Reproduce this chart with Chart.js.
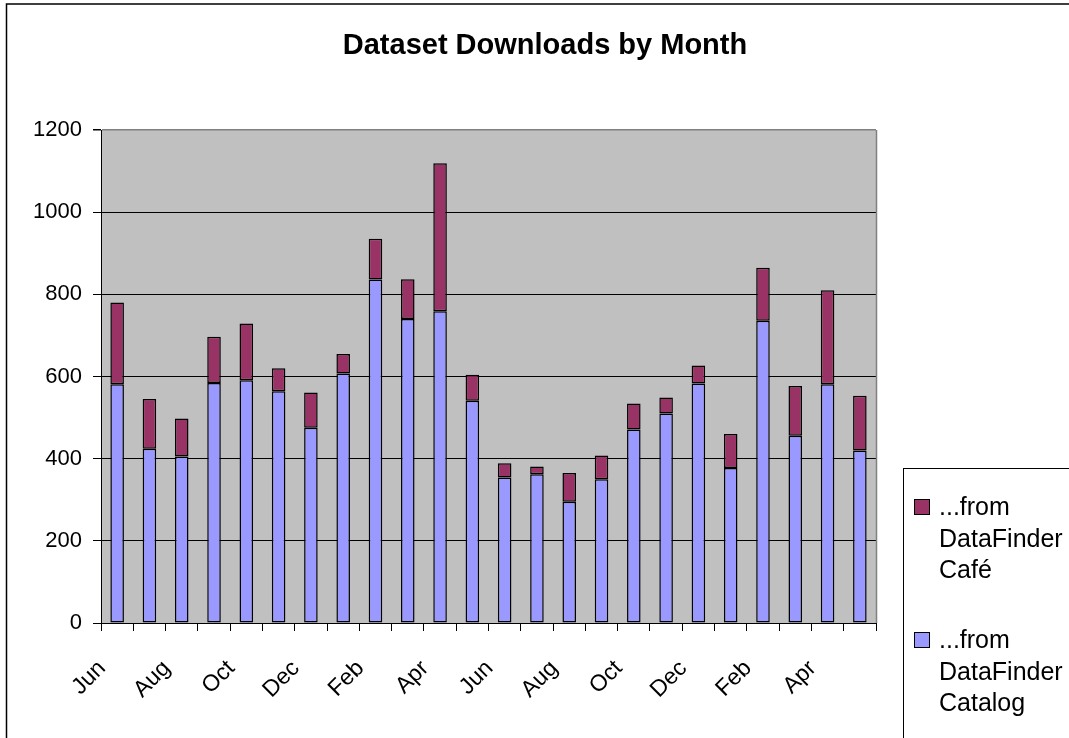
<!DOCTYPE html>
<html><head><meta charset="utf-8">
<script src="https://cdn.jsdelivr.net/npm/chart.js@4.4.1/dist/chart.umd.min.js"></script>
<style>html,body{margin:0;padding:0;background:#fff;overflow:hidden}</style>
</head><body>
<canvas id="c" width="1069" height="738"></canvas>
<script>
const chartTitle = 'Dataset Downloads by Month';
const months = ['Jun','Jul','Aug','Sep','Oct','Nov','Dec','Jan','Feb','Mar','Apr','May',
                'Jun','Jul','Aug','Sep','Oct','Nov','Dec','Jan','Feb','Mar','Apr','May'];
const catalog = [581,424,405,584,591,564,475,607,836,740,759,541,354,362,295,350,471,510,583,377,736,456,581,420];
const cafe    = [199,121,93,113,138,56,86,48,99,97,360,63,35,19,70,58,63,39,44,83,129,121,229,133];
const yTicks = [0,200,400,600,800,1000,1200];
const seriesNames = ['...from DataFinder Catalog','...from DataFinder Café'];
const seriesColors = ['#9999FF','#993366'];

const FONT = '"Liberation Sans", Arial, sans-serif';

const deco = {
  id: 'deco',
  beforeDraw(chart) {
    const {ctx, chartArea: a} = chart;
    ctx.save();
    ctx.fillStyle = '#fff';
    ctx.fillRect(0, 0, chart.width, chart.height);
    ctx.fillStyle = '#C0C0C0';
    ctx.fillRect(a.left, a.top, a.right - a.left, a.bottom - a.top);
    ctx.restore();
  },
  afterDraw(chart) {
    const {ctx, chartArea: a} = chart;
    ctx.save();
    // title
    ctx.fillStyle = '#000';
    ctx.font = 'bold 29px ' + FONT;
    ctx.textAlign = 'center';
    ctx.textBaseline = 'alphabetic';
    ctx.fillText(chartTitle, 545, 54);
    // right plot border
    ctx.strokeStyle = '#808080';
    ctx.lineWidth = 1.5;
    ctx.beginPath();
    ctx.moveTo(a.right + 0.5, a.top);
    ctx.lineTo(a.right + 0.5, a.bottom);
    ctx.stroke();
    // outer chart border
    ctx.strokeStyle = '#000';
    ctx.lineWidth = 1.5;
    ctx.beginPath();
    ctx.moveTo(6.5, chart.height + 2);
    ctx.lineTo(6.5, 4);
    ctx.lineTo(chart.width + 2, 4);
    ctx.stroke();
    // legend box
    ctx.lineWidth = 1;
    ctx.strokeRect(903.5, 468.5, 300, 400);
    const ds = chart.data.datasets;
    const order = ds.map((d, i) => i).reverse();
    ctx.font = '25px ' + FONT;
    ctx.textBaseline = 'alphabetic';
    ctx.textAlign = 'left';
    order.forEach((di, k) => {
      const y0 = 499 + k * 133;
      ctx.fillStyle = ds[di].backgroundColor;
      ctx.fillRect(914.5, y0 + 0.5, 15, 15);
      ctx.strokeStyle = '#000';
      ctx.strokeRect(914.5, y0 + 0.5, 15, 15);
      ctx.fillStyle = '#000';
      const lines = ds[di].label.split(' ');
      lines.forEach((ln, j) => ctx.fillText(ln, 939, y0 + 16 + j * 31.5));
    });
    ctx.restore();
  }
};

new Chart(document.getElementById('c'), {
  type: 'bar',
  data: {
    labels: months,
    datasets: [
      { label: seriesNames[0], data: catalog, backgroundColor: seriesColors[0], borderColor: '#000', borderWidth: 1.5, borderSkipped: false },
      { label: seriesNames[1], data: cafe, backgroundColor: seriesColors[1], borderColor: '#000', borderWidth: 1.5, borderSkipped: false }
    ]
  },
  options: {
    responsive: false,
    devicePixelRatio: 1,
    animation: false,
    categoryPercentage: 1,
    barPercentage: 0.42,
    layout: { padding: { left: 0, right: 193, top: 130, bottom: 0 } },
    plugins: {
      legend: { display: false },
      tooltip: { enabled: false },
      title: { display: false }
    },
    scales: {
      x: {
        stacked: true,
        afterFit(s) { s.height = 115; },
        border: { color: '#000', width: 1 },
        grid: { offset: true, drawOnChartArea: false, drawTicks: true, tickLength: 8, color: '#000', tickColor: '#000' },
        ticks: {
          autoSkip: false, minRotation: 45, maxRotation: 45, color: '#000', padding: 24, labelOffset: -15,
          font: { family: FONT, size: 23 },
          callback(v, i) { return i % 2 === 0 ? months[i] : ''; }
        }
      },
      y: {
        stacked: true, min: 0, max: 1200,
        afterFit(s) { s.width = 101; },
        afterBuildTicks(s) { s.ticks = yTicks.map(v => ({ value: v })); },
        border: { color: '#000', width: 1 },
        grid: {
          color: (c) => (c.tick && c.tick.value === 1200) ? '#808080' : '#000',
          lineWidth: (c) => (c.tick && c.tick.value === 1200) ? 1.5 : 1,
          tickLength: 8, tickColor: '#000'
        },
        ticks: {
          color: '#000', padding: 11, font: { family: FONT, size: 22 },
          callback(v) { return String(v); }
        }
      }
    }
  },
  plugins: [deco]
});
</script>
</body></html>
